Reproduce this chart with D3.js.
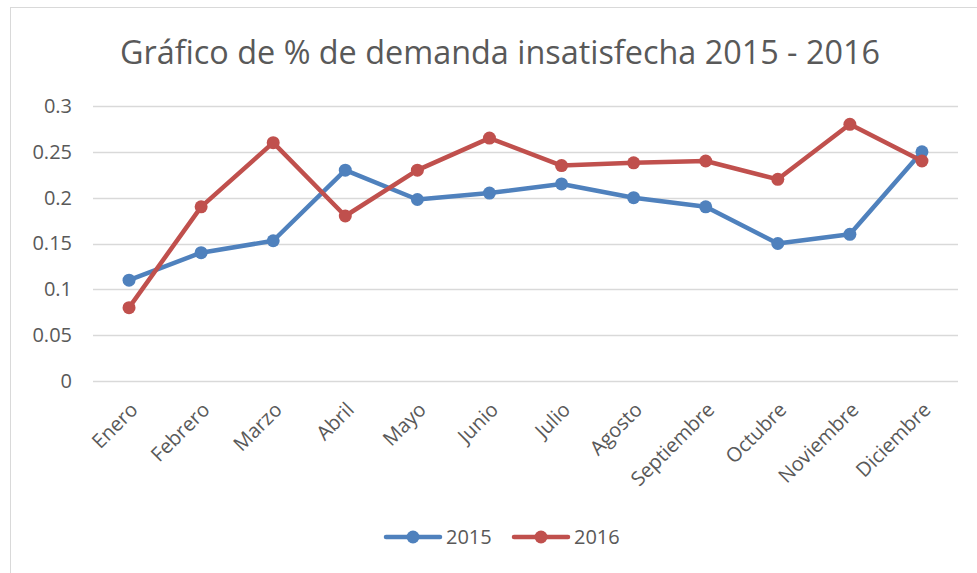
<!DOCTYPE html>
<html>
<head>
<meta charset="utf-8">
<script src="https://cdn.jsdelivr.net/npm/d3@7"></script>
<style>
  body { margin: 0; background: #fff; }
  text { font-family: "Open Sans", "DejaVu Sans", sans-serif; fill: #595959; }
</style>
</head>
<body>
<div id="chart"></div>
<script>
var months = ["Enero", "Febrero", "Marzo", "Abril", "Mayo", "Junio", "Julio",
  "Agosto", "Septiembre", "Octubre", "Noviembre", "Diciembre"];
var values2015 = [0.11, 0.14, 0.153, 0.23, 0.198, 0.205, 0.215, 0.2, 0.19, 0.15, 0.16, 0.25];
var values2016 = [0.08, 0.19, 0.26, 0.18, 0.23, 0.265, 0.235, 0.238, 0.24, 0.22, 0.28, 0.24];
var yTicks = [0, 0.05, 0.1, 0.15, 0.2, 0.25, 0.3];
var seriesNames = ["2015", "2016"];
var colors = ["#4F81BD", "#C0504D"];

var svgWidth = 977;
var svgHeight = 573;

var svg = d3.select("#chart")
  .append("svg")
  .attr("width", svgWidth)
  .attr("height", svgHeight);

// chart area border
svg.append("rect")
  .attr("x", 10.5)
  .attr("y", 7.5)
  .attr("width", 980)
  .attr("height", 580)
  .attr("fill", "none")
  .attr("stroke", "#D9D9D9");

svg.append("text")
  .attr("x", 500)
  .attr("y", 64)
  .attr("text-anchor", "middle")
  .attr("font-size", 32)
  .attr("textLength", 760)
  .attr("lengthAdjust", "spacingAndGlyphs")
  .text("Gráfico de % de demanda insatisfecha 2015 - 2016");

var x = d3.scaleBand()
  .domain(months)
  .range([93, 958])
  .padding(0);

var y = d3.scaleLinear()
  .domain([0, 0.3])
  .range([381, 106]);

var cx = d => x(d) + x.bandwidth() / 2;

// gridlines
svg.append("g")
  .selectAll("line")
  .data(yTicks)
  .enter()
  .append("line")
  .attr("x1", 93)
  .attr("x2", 958)
  .attr("y1", d => Math.round(y(d)) + 0.5)
  .attr("y2", d => Math.round(y(d)) + 0.5)
  .attr("stroke", "#D9D9D9")
  .attr("stroke-width", 1.3);

// y axis labels
var yAxis = d3.axisLeft(y)
  .tickValues(yTicks)
  .tickFormat(d => String(+d.toFixed(2)))
  .tickSize(0)
  .tickPadding(0);

var yG = svg.append("g")
  .attr("transform", "translate(72,0)")
  .call(yAxis);
yG.select(".domain").remove();
yG.selectAll("text")
  .attr("font-size", 20)
  .attr("fill", "#595959")
  .style("font-family", "'Open Sans', sans-serif");

// x axis labels
var xAxis = d3.axisBottom(x).tickSize(0).tickPadding(0);
var xG = svg.append("g")
  .attr("transform", "translate(0,381)")
  .call(xAxis);
xG.select(".domain").remove();
xG.selectAll("text")
  .attr("font-size", 20)
  .attr("fill", "#595959")
  .style("font-family", "'Open Sans', sans-serif")
  .attr("text-anchor", "end")
  .attr("dy", null)
  .attr("y", 0)
  .attr("transform", "translate(10,30) rotate(-45)");

var line = d3.line()
  .x((d, i) => cx(months[i]))
  .y(d => y(d));

[values2015, values2016].forEach(function(vals, s) {
  svg.append("path")
    .datum(vals)
    .attr("d", line)
    .attr("fill", "none")
    .attr("stroke", colors[s])
    .attr("stroke-width", 4.5)
    .attr("stroke-linejoin", "round")
    .attr("stroke-linecap", "round");

  svg.append("g")
    .selectAll("circle")
    .data(vals)
    .enter()
    .append("circle")
    .attr("cx", (d, i) => cx(months[i]))
    .attr("cy", d => y(d))
    .attr("r", 6.5)
    .attr("fill", colors[s]);
});

// legend
var legend = svg.append("g")
  .selectAll("g")
  .data(seriesNames)
  .enter()
  .append("g")
  .attr("transform", (d, i) => `translate(${386 + i * 128}, 537)`);

legend.append("line")
  .attr("x1", 0)
  .attr("x2", 54)
  .attr("stroke", (d, i) => colors[i])
  .attr("stroke-width", 4.5)
  .attr("stroke-linecap", "round");

legend.append("circle")
  .attr("cx", 27)
  .attr("r", 6.5)
  .attr("fill", (d, i) => colors[i]);

legend.append("text")
  .attr("x", 60)
  .attr("y", 7)
  .attr("font-size", 20)
  .text(d => d);
</script>
</body>
</html>
